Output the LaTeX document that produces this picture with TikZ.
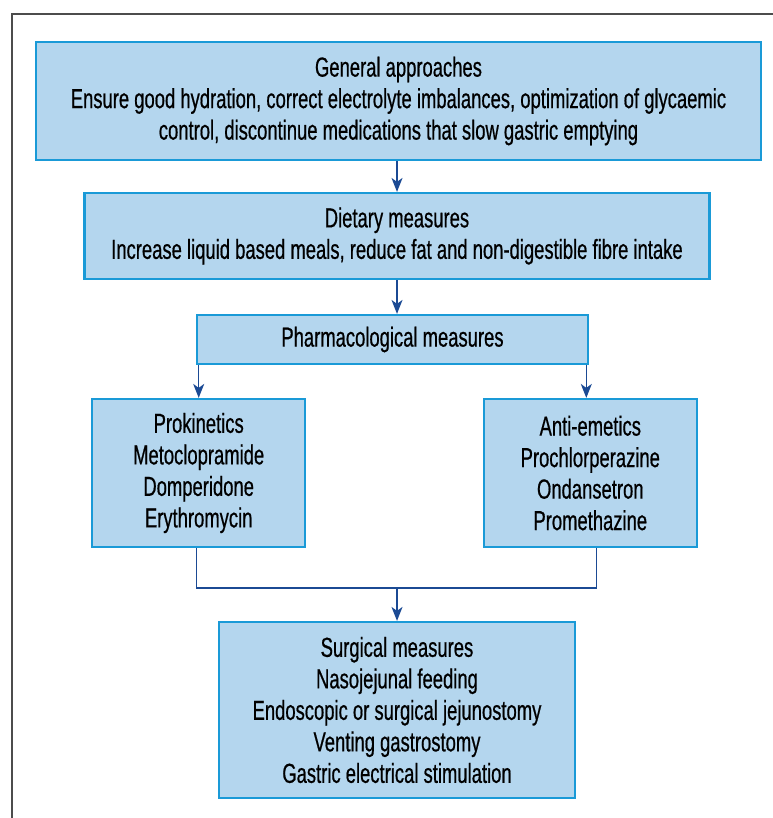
\documentclass[tikz,border=0pt]{standalone}
\usepackage{fontspec}
\setmainfont[FakeStretch=0.67,FakeBold=0.6]{Liberation Sans}
\usetikzlibrary{arrows.meta}
\definecolor{boxfill}{HTML}{B4D6EE}
\definecolor{boxline}{HTML}{1A9AD7}
\definecolor{arrline}{HTML}{1B4A94}
\begin{document}
\begin{tikzpicture}[x=1pt,y=-1pt,
 box/.style={draw=boxline,fill=boxfill,line width=2.2pt,align=center,inner sep=0pt,
  font=\fontsize{27.5}{31.5}\selectfont,execute at begin node={\vspace*{6pt}}},
 arr/.style={draw=arrline,line width=1.3pt,-{Stealth[length=14pt,width=11pt,inset=4pt]}},
 ln/.style={draw=arrline,line width=1.3pt}]
 \useasboundingbox (0,0) rectangle (772,818);
 \draw[line width=1.8pt,black!70](12,822)--(12,14)--(776,14);
 \node[box,minimum width=725pt,minimum height=118pt](gen) at (398.5,101)
  {General approaches\\Ensure good hydration, correct electrolyte imbalances, optimization of glycaemic\\control, discontinue medications that slow gastric emptying};
 \node[box,minimum width=625pt,minimum height=86pt](diet) at (397,236)
  {Dietary measures\\Increase liquid based meals, reduce fat and non-digestible fibre intake};
 \node[box,minimum width=391pt,minimum height=49pt](pharm) at (392.5,339.5)
  {Pharmacological measures};
 \node[box,minimum width=213pt,minimum height=148pt](prok) at (198.7,473)
  {Prokinetics\\Metoclopramide\\Domperidone\\Erythromycin};
 \node[box,minimum width=213pt,minimum height=148pt](anti) at (590.3,473)
  {Anti-emetics\\Prochlorperazine\\Ondansetron\\Promethazine};
 \node[box,minimum width=356pt,minimum height=176pt](surg) at (397,710)
  {Surgical measures\\Nasojejunal feeding\\Endoscopic or surgical jejunostomy\\Venting gastrostomy\\Gastric electrical stimulation};
 \coordinate (join) at (397,588);
 \draw[arr](gen.south -| diet.north)--(diet.north);
 \draw[arr](diet.south)--(diet.south |- pharm.north);
 \draw[arr](prok.north |- pharm.south)--(prok.north);
 \draw[arr]([xshift=-4pt]anti.north |- pharm.south)--([xshift=-4pt]anti.north);
 \draw[ln]([xshift=-2pt]prok.south)|-(join)-|([xshift=6pt]anti.south);
 \draw[arr](join)--(surg.north);
\end{tikzpicture}
\end{document}
